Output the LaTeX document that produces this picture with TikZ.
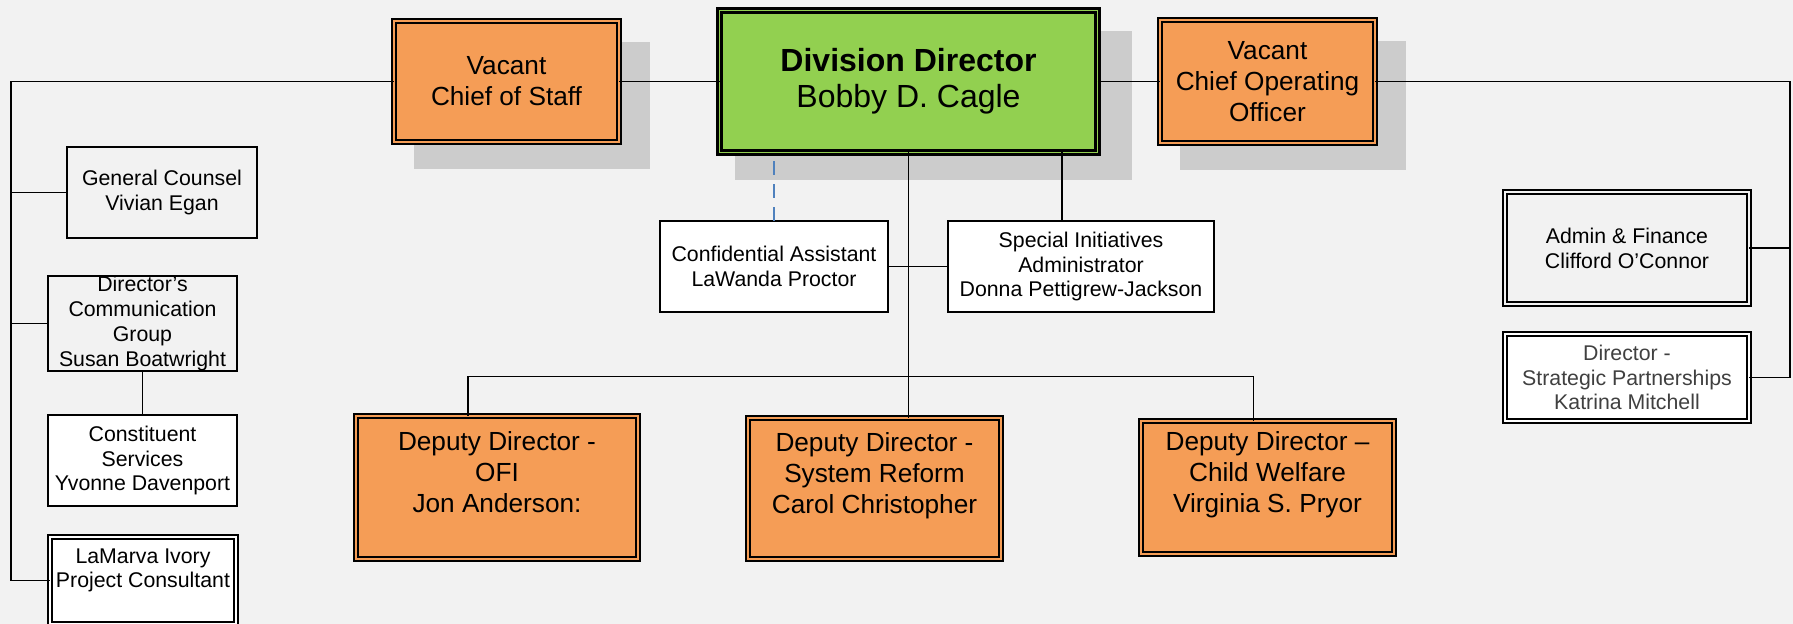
\documentclass[tikz,border=0pt]{standalone}
\usepackage{fontspec}
\setmainfont{Liberation Sans}
\usetikzlibrary{shadows}
\definecolor{pagebg}{RGB}{242,242,242}
\definecolor{postorange}{RGB}{245,157,86}
\definecolor{postgreen}{RGB}{146,208,80}
\definecolor{shade}{RGB}{204,204,204}
\definecolor{dotblue}{RGB}{79,129,189}
\definecolor{greytext}{RGB}{64,64,64}

\begin{document}
\begin{tikzpicture}[
    x=0.5pt, y=-0.5pt,
    box/.style={
      draw,
      line width=0.9pt,
      inner sep=0pt,
      outer sep=0pt,
      align=center,
      font=\fontsize{10.65pt}{12.4pt}\selectfont
    },
    plainbox/.style={box, fill=white},
    twinbox/.style={box, double, double distance=1.2pt},
    post/.style={
      twinbox,
      double=postorange,
      fill=postorange,
      font=\fontsize{13.1pt}{15.5pt}\selectfont
    },
    lifted/.style={
      drop shadow={shadow xshift=12pt, shadow yshift=-11.5pt, shadow scale=1.05, fill=shade, opacity=1}
    },
    link/.style={draw, line width=0.8pt},
    dotlink/.style={draw=dotblue, line width=0.8pt, dash pattern=on 7pt off 4.5pt}
  ]
    \fill[pagebg] (0,0) rectangle (1793,624);
    \useasboundingbox (0,0) rectangle (1793,624);
    \clip (0,0) rectangle (1793,624);

    \node[post, lifted, minimum width=112.5pt, minimum height=60.5pt] (cos) at (506.5,81.5) {Vacant\\Chief of Staff};
    \node[twinbox, lifted, double=postgreen, fill=postgreen, line width=1.3pt, double distance=0.9pt,
      minimum width=189pt, minimum height=71pt, font=\fontsize{16pt}{18pt}\selectfont] (dd) at (908.5,81.5) {\textbf{Division Director}\\Bobby D. Cagle};
    \node[post, lifted, minimum width=107.5pt, minimum height=61.5pt] (coo) at (1267.5,81.5) {Vacant\\Chief Operating\\Officer};

    \node[plainbox, minimum width=114pt, minimum height=45.5pt] (conf) at (774,266.5) {Confidential Assistant\\LaWanda Proctor};
    \node[plainbox, minimum width=133pt, minimum height=45.5pt] (spec) at (1081,266.5) {Special Initiatives\\Administrator\\Donna Pettigrew-Jackson};

    \node[box, minimum width=95pt, minimum height=45.5pt] (gc) at (162,192.5) {General Counsel\\Vivian Egan};
    \node[box, minimum width=94.5pt, minimum height=45.5pt] (dcg) at (142.5,323.5) {Director’s\\Communication\\Group\\Susan Boatwright};
    \node[plainbox, minimum width=94.5pt, minimum height=45.5pt] (cs) at (142.5,460.5) {Constituent\\Services\\Yvonne Davenport};
    \node[twinbox, fill=white, minimum width=93pt, minimum height=43.5pt] (lam) at (143,580.5) {LaMarva Ivory\\Project Consultant\\\mbox{}};

    \node[post, minimum width=141pt, minimum height=71.5pt] (d1) at (497,487.5) {Deputy Director -\\OFI\\Jon Anderson:\\\mbox{}};
    \node[post, minimum width=126.5pt, minimum height=70.5pt] (d2) at (874.5,488.5) {Deputy Director -\\System Reform\\Carol Christopher\\\mbox{}};
    \node[post, minimum width=126.5pt, minimum height=66.5pt] (d3) at (1267.5,487.5) {Deputy Director –\\Child Welfare\\Virginia S. Pryor\\\mbox{}};

    \node[twinbox, double=pagebg, minimum width=122pt, minimum height=56pt] (admin) at (1627,248) {Admin \& Finance\\Clifford O’Connor};
    \node[twinbox, fill=white, text=greytext, minimum width=122pt, minimum height=43.5pt] (sp) at (1627,377.5) {Director -\\Strategic Partnerships\\Katrina Mitchell};

    \coordinate (lspine) at (11,81.5);
    \coordinate (rspine) at (1790,81.5);
    \coordinate (busl) at (467.7,376.7);
    \coordinate (busr) at (1253.3,376.7);
    \coordinate (spectap) at (1062,190);

    \draw[link] (lspine) -- (cos.west);
    \draw[link] (cos.east) -- (dd.west);
    \draw[link] (dd.east) -- (coo.west);
    \draw[link] (coo.east) -- (rspine) |- (sp.east);
    \draw[link] (admin.east) -- (admin.east -| rspine);
    \draw[link] (lspine) |- (lam.west);
    \draw[link] (gc.west) -- (gc.west -| lspine);
    \draw[link] (dcg.west) -- (dcg.west -| lspine);
    \draw[link] (dcg.south) -- (cs.north);
    \draw[dotlink] (conf.north) -- (conf.north |- dd.south);
    \draw[link] (spectap |- dd.south) -- (spectap |- spec.north);
    \draw[link] (conf.east) -- (spec.west);
    \draw[link] (dd.south) -- (dd.south |- d2.north);
    \draw[link] (busl |- d1.north) -- (busl) -- (busr) -- (busr |- d3.north);
  \end{tikzpicture}
\end{document}
